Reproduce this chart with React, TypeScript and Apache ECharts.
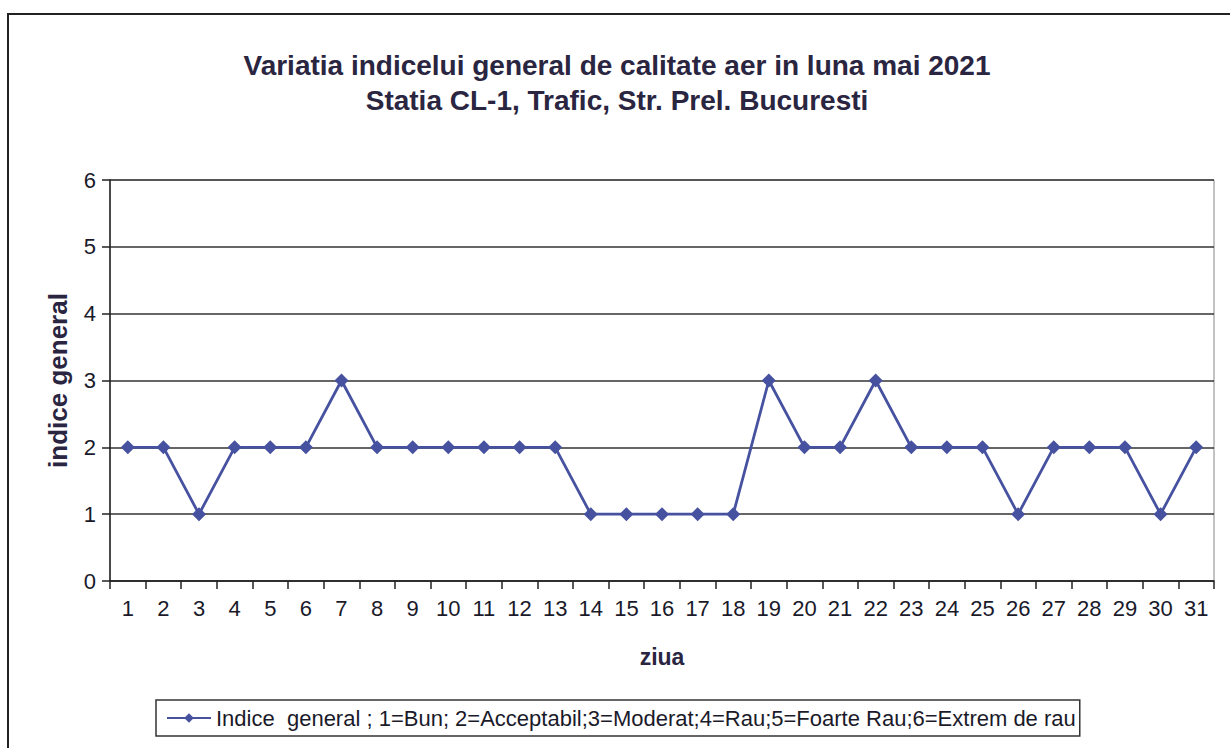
import React, { useEffect, useRef } from "react";
import * as echarts from "echarts";

const days = Array.from({ length: 31 }, (_, i) => String(i + 1));
const indexValues = [2, 2, 1, 2, 2, 2, 3, 2, 2, 2, 2, 2, 2, 1, 1, 1, 1, 1, 3, 2, 2, 3, 2, 2, 2, 1, 2, 2, 2, 1, 2];
const yTicks = [0, 1, 2, 3, 4, 5, 6];
const titleText = "Variatia indicelui general de calitate aer in luna mai 2021\nStatia CL-1, Trafic, Str. Prel. Bucuresti";
const seriesName = "Indice  general ; 1=Bun; 2=Acceptabil;3=Moderat;4=Rau;5=Foarte Rau;6=Extrem de rau";

const FONT = "'Liberation Sans', Arial, sans-serif";

export default function App() {
  const ref = useRef<HTMLDivElement>(null);
  useEffect(() => {
    if (!ref.current) return;
    const chart = echarts.init(ref.current, null, { renderer: "svg" });
    chart.setOption({
      animation: false,
      backgroundColor: "#ffffff",
      textStyle: { fontFamily: FONT },
      title: {
        text: titleText,
        left: 612,
        top: 43,
        textAlign: "center",
        textStyle: { fontSize: 28, fontWeight: "bold", color: "#2a2540", lineHeight: 35, fontFamily: FONT },
      },
      graphic: [
        {
          type: "rect",
          shape: { x: 8, y: 14, width: 1240, height: 760 },
          style: { fill: "none", stroke: "#222", lineWidth: 2 },
          silent: true,
          z: -1,
        },
      ],
      legend: {
        left: 156,
        top: 700,
        itemWidth: 44,
        itemHeight: 12,
        itemGap: 4,
        padding: [7, 4, 7, 10],
        borderColor: "#333",
        borderWidth: 1.5,
        borderRadius: 0,
        textStyle: { fontSize: 22, color: "#1a1a2a", fontFamily: FONT },
        data: [seriesName],
      },
      grid: {
        left: 110,
        right: 16,
        top: 180,
        bottom: 167,
        show: true,
        borderColor: "#888",
        borderWidth: 1,
        backgroundColor: "transparent",
      },
      xAxis: {
        type: "category",
        data: days,
        boundaryGap: true,
        name: "ziua",
        nameLocation: "middle",
        nameGap: 64,
        nameTextStyle: { fontSize: 23, fontWeight: "bold", color: "#2a2540" },
        axisLine: { lineStyle: { color: "#222", width: 1.5 } },
        axisTick: { show: true, length: 8, alignWithLabel: false, lineStyle: { color: "#222", width: 1.5 } },
        axisLabel: { fontSize: 22, color: "#1a1a2a", margin: 16, interval: 0 },
        splitLine: { show: false },
      },
      yAxis: {
        type: "value",
        min: 0,
        max: 6,
        interval: 1,
        name: "indice general",
        nameLocation: "middle",
        nameGap: 39,
        nameTextStyle: { fontSize: 26, fontWeight: "bold", color: "#2a2540" },
        axisLine: { show: true, lineStyle: { color: "#222", width: 1.5 } },
        axisTick: { show: true, length: 8, lineStyle: { color: "#222", width: 1.5 } },
        axisLabel: {
          fontSize: 22,
          color: "#1a1a2a",
          margin: 14,
          formatter: (v: number) => (yTicks.includes(v) ? String(v) : ""),
        },
        splitLine: { show: true, lineStyle: { color: "#333", width: 1.5 } },
      },
      series: [
        {
          name: seriesName,
          type: "line",
          data: indexValues,
          symbol: "diamond",
          symbolSize: 14,
          lineStyle: { color: "#4652a0", width: 2.8 },
          itemStyle: { color: "#4652a0" },
        },
      ],
    });
    return () => chart.dispose();
  }, []);
  return <div ref={ref} style={{ position: "absolute", left: 0, top: 0, width: 1230, height: 748 }} />;
}
